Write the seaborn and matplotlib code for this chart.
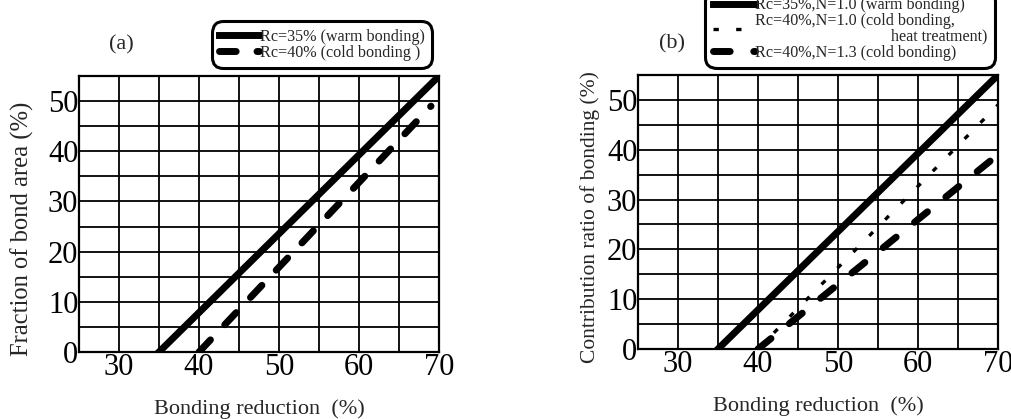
import numpy as np
import pandas as pd
import matplotlib
matplotlib.use("Agg")
import matplotlib.pyplot as plt
import seaborn as sns

# ==========================================
# Data
# ==========================================
# (a) fraction of bond area
a_warm_x = [35, 70]
a_warm_y = [0, 55]
a_cold_x = [40, 69]
a_cold_y = [0, 49]
a_labels = ["Rc=35% (warm bonding)", "Rc=40% (cold bonding )"]

# (b) contribution ratio of bonding
b_warm_x = [35, 70]
b_warm_y = [0, 55]
b_heat_x = [40, 70]
b_heat_y = [0, 49]
b_cold_x = [40, 70]
b_cold_y = [0, 39]
b_labels = ["Rc=35%,N=1.0 (warm bonding)",
            "Rc=40%,N=1.0 (cold bonding,\n" + " " * 34 + "heat treatment)",
            "Rc=40%,N=1.3 (cold bonding)"]

x_major = [30, 40, 50, 60, 70]
y_major = [0, 10, 20, 30, 40, 50]

sns.set_style("white")
plt.rcParams['font.family'] = ['Liberation Serif', 'DejaVu Serif']

fig = plt.figure(figsize=(10.11, 4.19), dpi=100)
W, H = 1011, 419


def make_axes(left, right, bottom, top):
    return fig.add_axes([left / W, 1 - bottom / H, (right - left) / W, (bottom - top) / H])


def style_axes(ax, ylabel, ylabel_size, ylab_xy):
    ax.set_xlim(25, 70)
    ax.set_ylim(0, 55)
    ax.set_xticks(x_major)
    ax.set_xticks(np.arange(25, 71, 5), minor=True)
    ax.set_yticks(y_major)
    ax.set_yticks(np.arange(0, 56, 5), minor=True)
    ax.grid(which='both', color='black', linewidth=1.3)
    ax.set_axisbelow(True)
    ax.tick_params(which='both', length=0, labelsize=22, colors='black')
    ax.tick_params(axis='x', pad=1)
    ax.tick_params(axis='y', pad=0.5)
    for s in ax.spines.values():
        s.set_color('black')
        s.set_linewidth(1.6)
    ax.set_xlabel("Bonding reduction  (%)", fontsize=16, labelpad=12)
    ax.set_ylabel(ylabel, fontsize=ylabel_size, va='center')
    ax.yaxis.set_label_coords(*ylab_xy)


def style_legend(leg):
    frame = leg.get_frame()
    frame.set_edgecolor('black')
    frame.set_linewidth(2.2)
    frame.set_boxstyle('round', pad=0, rounding_size=0.7)


# ==========================================
# Panel (a)
# ==========================================
ax1 = make_axes(79, 439, 352, 76)
sns.lineplot(x=a_warm_x, y=a_warm_y, ax=ax1, color='black', lw=5,
             solid_capstyle='projecting', label=a_labels[0])
sns.lineplot(x=a_cold_x, y=a_cold_y, ax=ax1, color='black', lw=5,
             linestyle=(0, (2.4, 3.0)), dash_capstyle='round', label=a_labels[1])
style_axes(ax1, "Fraction of bond area (%)", 17.7, (-0.158, 0.446))

leg1 = ax1.legend(loc='lower right', bbox_to_anchor=(432 / W, 1 - 68 / H),
                  bbox_transform=fig.transFigure, borderaxespad=0,
                  fontsize=11.6, handlelength=2.5, handletextpad=0.05,
                  labelspacing=0.0, borderpad=0.45, fancybox=True, framealpha=1)
style_legend(leg1)

fig.text(121 / W, 1 - 45 / H, "(a)", fontsize=16, ha='center', va='center')

# ==========================================
# Panel (b)
# ==========================================
ax2 = make_axes(638, 998, 349, 75)
sns.lineplot(x=b_warm_x, y=b_warm_y, ax=ax2, color='black', lw=5,
             solid_capstyle='projecting', label=b_labels[0])
sns.lineplot(x=b_heat_x, y=b_heat_y, ax=ax2, color='black', lw=2.4,
             linestyle=(0, (1.6, 5.2)), dash_capstyle='butt', label=b_labels[1])
sns.lineplot(x=b_cold_x, y=b_cold_y, ax=ax2, color='black', lw=5,
             linestyle=(0, (2.4, 3.4)), dash_capstyle='round', label=b_labels[2])
style_axes(ax2, "Contribution ratio of bonding (%)", 15.5, (-0.133, 0.482))

leg2 = ax2.legend(loc='lower right', bbox_to_anchor=(995 / W, 1 - 68 / H),
                  bbox_transform=fig.transFigure, borderaxespad=0,
                  fontsize=11.6, handlelength=2.6, handletextpad=0.05,
                  labelspacing=0.0, borderpad=0.45, fancybox=True, framealpha=1)
for t in leg2.get_texts():
    t.set_linespacing(0.95)
style_legend(leg2)

fig.text(672 / W, 1 - 44 / H, "(b)", fontsize=16, ha='center', va='center')

fig.savefig("out.png", dpi=100)
plt.close(fig)
